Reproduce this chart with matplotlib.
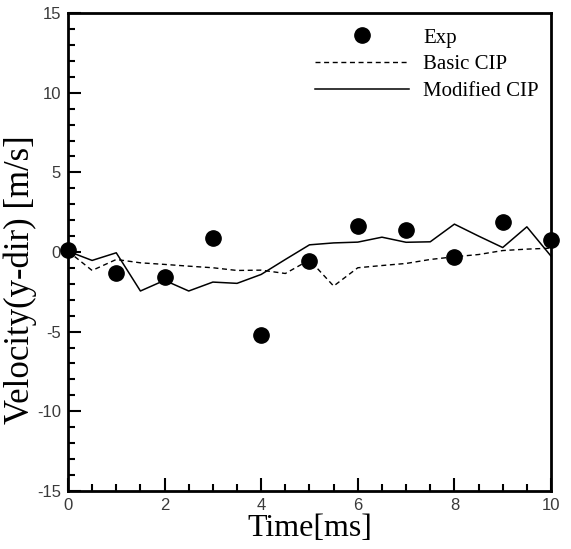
import numpy as np
import matplotlib
matplotlib.use("Agg")
import matplotlib.pyplot as plt
from matplotlib.ticker import MultipleLocator

# experiment (every 1 ms)
exp_t = [0, 1, 2, 3, 4, 5, 6, 7, 8, 9, 10]
exp_v = [0.11, -1.35, -1.58, 0.89, -5.23, -0.57, 1.65, 1.37, -0.32, 1.88, 0.78]

# simulations (every 0.5 ms)
sim_t = [0, 0.5, 1, 1.5, 2, 2.5, 3, 3.5, 4, 4.5, 5,
         5.5, 6, 6.5, 7, 7.5, 8, 8.5, 9, 9.5, 10]
basic_v = [0.05, -1.16, -0.47, -0.68, -0.78, -0.89, -0.99, -1.16, -1.14, -1.35, -0.5,
           -2.14, -0.99, -0.85, -0.72, -0.47, -0.3, -0.16, 0.09, 0.18, 0.24]
modified_v = [0.05, -0.53, -0.05, -2.45, -1.78, -2.45, -1.89, -1.97, -1.41, -0.47, 0.45,
              0.57, 0.62, 0.93, 0.61, 0.64, 1.75, 1.0, 0.28, 1.58, -0.26]

serif = ["Liberation Serif", "DejaVu Serif"]
sans = ["Liberation Sans", "DejaVu Sans"]


def main():
    plt.rcParams["axes.unicode_minus"] = False
    fig = plt.figure(figsize=(5.71, 5.49), dpi=100)
    ax = fig.add_axes([0.119, 0.106, 0.846, 0.870])

    ax.plot(exp_t, exp_v, "o", color="black", markersize=11, label="Exp",
            clip_on=False, zorder=3)
    ax.plot(sim_t, basic_v, color="black", lw=1.0, dashes=(3.6, 2.6),
            label="Basic CIP")
    ax.plot(sim_t, modified_v, color="black", lw=1.1, label="Modified CIP")

    ax.set_xlim(0, 10)
    ax.set_ylim(-15, 15)
    ax.xaxis.set_major_locator(MultipleLocator(2))
    ax.xaxis.set_minor_locator(MultipleLocator(0.5))
    ax.yaxis.set_major_locator(MultipleLocator(5))
    ax.yaxis.set_minor_locator(MultipleLocator(1))
    ax.tick_params(which="both", direction="in", top=False, right=False,
                   width=1.5, colors="black", labelcolor="#3a3a3a")
    ax.tick_params(which="major", length=9.5, labelsize=12, pad=5)
    ax.tick_params(which="minor", length=5)
    for lbl in ax.get_xticklabels() + ax.get_yticklabels():
        lbl.set_family(sans)
    for s in ax.spines.values():
        s.set_linewidth(2)

    ax.set_xlabel("Time[ms]", family=serif, fontsize=23, labelpad=1)
    ax.set_ylabel("Velocity(y-dir) [m/s]", family=serif, fontsize=25)
    ax.yaxis.set_label_coords(-0.064, 0.443)

    ax.legend(loc="upper left", bbox_to_anchor=(0.511, 0.969), frameon=False,
              prop={"family": serif, "size": 15}, handlelength=4.5,
              handletextpad=0.7, labelspacing=0.35, borderpad=0, borderaxespad=0,
              numpoints=1)

    fig.savefig("out.png", dpi=100)


if __name__ == '__main__':
    main()
